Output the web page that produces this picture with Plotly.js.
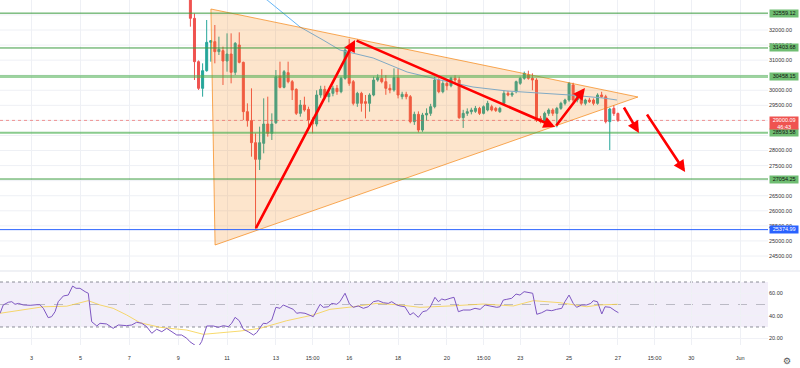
<!DOCTYPE html>
<html><head><meta charset="utf-8">
<script src="https://cdn.plot.ly/plotly-3.0.1.min.js"></script>
<style>html,body{margin:0;padding:0;background:#fff;}#chart{width:800px;height:368px;}</style>
</head><body><div id="chart"></div>
<script>
// ---- DATA (x values are days of May; 32 = 1 Jun) ----
const candleStartDay = 9.5;      // 9 May 12:00, first visible 4h candle
const candleStepDay = 1 / 6;     // 4-hour candles
const openP  = [33660,32387,30949,30064,30650,31591,31613,31281,31314,30971,31203,30595,31502,30927,29290,28991,28261,27708,28239,28880,
                28571,28924,30473,30097,30584,30285,30031,29234,29511,29367,29013,28880,29843,30031,29787,29898,30064,29953,30396,31336,
                30285,29566,29898,29622,29566,29843,30340,30396,30285,30064,30009,30418,29787,29866,29788,28958,29201,28680,29179,29234,
                29456,30341,29953,30230,30150,30400,30340,29091,29234,29289,29300,29400,29234,29345,29456,29400,29289,29566,29898,29843,
                29953,30230,30396,30510,30396,30340,29068,28958,29234,29345,29234,29400,29566,29677,30175,29677,29843,29566,29677,29677,
                29566,29843,29787,28958,29400,29230];
const highP  = [34100,32550,30990,30894,32332,31668,32166,31779,31447,31889,31889,31600,31923,30950,29566,30064,28571,28792,29732,29787,
                29234,30672,30949,30672,30949,30340,30064,29677,29787,29456,29100,30000,30150,30150,30000,30150,30175,30450,31450,31700,
                30340,29950,29950,29843,29900,30450,30530,30700,30500,30200,30728,30728,29950,29950,29843,29290,29300,29250,29400,29550,
                30450,30400,30300,30350,30450,30500,30450,29350,29400,29420,29480,29450,29500,29650,29520,29450,29450,30000,29980,29950,
                30320,30450,30620,30650,30562,30400,29150,29290,29400,29400,29450,29620,29720,30272,30250,29900,29900,29720,29750,29730,
                29900,29950,29850,29420,29500,29260];
const lowP   = [32111,30341,30010,29787,30617,30949,30894,31170,30175,30617,30230,30507,30894,29013,28792,27796,25375,27354,27907,28460,
                28350,28880,30064,30064,30230,29677,29179,29124,29290,28681,28571,28800,29750,29700,29600,29800,29850,29900,30350,30150,
                29500,29450,29290,29068,29290,29800,30285,30230,29850,29900,29953,29730,29700,29700,28903,28850,28600,28620,29000,29150,
                29400,29900,29900,30000,30100,30250,29050,28750,29150,29200,29250,29180,29200,29300,29300,29280,29250,29500,29800,29780,
                29900,30180,30350,30350,30000,28950,28900,28900,29150,29150,28770,29350,29500,29620,29600,29600,29500,29500,29580,29500,
                29520,29750,28900,28017,29150,28950];
const closeP = [32387,30949,30064,30650,31591,31645,31281,31358,30971,31203,30595,31558,30927,29290,28991,28261,27708,28261,28880,28571,
                28880,30451,30097,30617,30285,30009,29234,29511,29345,29013,28880,29843,30031,29787,29898,30064,29953,30396,31336,30230,
                29566,29898,29566,29566,29843,30340,30418,30285,30064,30009,30418,29843,29866,29787,28958,29201,28680,29179,29234,29456,
                30341,29953,30230,30150,30400,30340,29091,29234,29289,29345,29400,29234,29456,29566,29345,29330,29400,29898,29843,29898,
                30285,30396,30562,30396,30340,29013,28958,29234,29345,29234,29400,29566,29677,30230,29677,29843,29566,29677,29620,29566,
                29843,29787,28958,29378,29230,29000.09];

// moving average on price pane (read vertices)
const maDay   = [11.94,12.27,12.64,13.29,13.99,14.93,15.62,16.98,18.37,19.72,21.07,22.46,23.81,25.04,26.39,26.96];
const maPrice = [33327,33161,32996,32564,32100,31668,31336,31071,30606,30341,30108,29976,29909,29843,29743,29677];

// RSI (read vertices)
const rsiDay = [1.71,1.84,2.05,2.19,2.32,2.46,2.66,2.94,3.21,3.34,3.48,3.68,3.82,3.96,4.09,4.30,4.50,4.68,4.82,4.98,
  5.19,5.32,5.46,5.67,5.80,6.07,6.34,6.55,6.89,7.10,7.30,7.51,7.71,7.92,8.12,8.33,8.53,8.74,8.94,9.14,
  9.35,9.48,9.81,9.96,10.17,10.44,10.64,10.85,11.05,11.19,11.33,11.50,11.67,11.87,12.08,12.21,12.35,12.48,12.62,12.83,
  13.00,13.17,13.30,13.51,13.71,13.85,13.99,14.19,14.40,14.53,14.81,14.94,15.15,15.28,15.49,15.62,15.83,16.01,16.17,16.37,
  16.58,16.78,16.99,17.19,17.40,17.60,17.74,17.95,18.08,18.28,18.49,18.62,18.83,19.01,19.17,19.31,19.51,19.65,19.79,19.92,
  20.13,20.29,20.47,20.67,20.95,21.15,21.36,21.56,21.76,22.04,22.17,22.31,22.45,22.65,22.83,22.99,23.16,23.33,23.51,23.68,
  23.88,24.09,24.29,24.49,24.70,24.83,25.00,25.17,25.31,25.52,25.72,25.89,25.99,26.16,26.34,26.47,26.68,26.88,27.02];
const rsiVal = [42.2,49.6,52,52.5,50.2,51,49.6,49.3,49.8,49.8,46.6,38.3,39.2,43.6,52.5,57.6,58.4,66.4,64.4,64.4,
  61.4,60,34.7,30.9,33.3,32.7,28.8,31.8,31.2,31.8,34.2,33.3,30.3,24.4,28,25.8,28.8,25.8,22.9,22.9,
  20,16.9,12,17,30.9,30.9,29.7,31.2,30.3,33.3,38.6,35.6,28,25.8,22.9,24.9,28.8,33.3,33,36.2,
  47.5,46.6,49.6,47.5,45.7,42.2,42.7,42.2,40.7,39.2,50.2,47.5,48,51,50.2,52.5,60,50.4,47.5,48.7,
  46.6,48,52.5,53.4,51.6,51,52.5,49.6,48.7,48,40.7,42.7,38.6,43.6,44.5,47.5,56.4,52.5,54.9,54,
  55.5,56.4,43.6,45.1,45.1,46.6,45.7,49.6,48.7,47.5,48,54,54.6,55.5,59.3,58.4,61.4,60.5,60,41.3,
  42.7,45.1,44.5,45.7,46.6,52.5,58.4,51,47.5,49.6,49.6,51,53.4,52.5,41.6,48,47.5,44.5,42.7];
const rsiMaDay = [1.71,3.48,4.44,5.32,5.80,6.34,6.89,7.44,8.26,9.35,10.03,10.71,11.53,12.35,13.44,14.53,15.21,16.17,17.13,18.08,18.90,20.13,21.48,22.72,23.54,24.63,25.72,26.25,26.99];
const rsiMaVal = [42.2,48,48.5,53.4,49.6,46.6,40.7,33.8,29.7,27.3,23.5,24.9,26.4,28.8,35.6,40.7,45.7,48,51,49.6,47.5,48.7,50.4,48.7,53.4,51.6,48,49.6,50.2];

// horizontal levels
const greenLevels = [32559.12, 31403.68, 30458.15, 28593.58, 27054.25];
const blueLevel = 25374.99;
const lastPrice = 29000.09;
const countdown = '46:43';

// triangle drawing
const triDay   = [10.34, 10.51, 27.82];
const triPrice = [32697, 24865, 29777];

// arrow drawings (from -> to)
const arrowFromDay   = [12.15, 16.24, 24.43, 27.21, 28.15];
const arrowFromPrice = [25375, 31668, 28781, 29478, 29246];
const arrowToDay     = [16.24, 24.43, 25.65, 27.86, 29.75];
const arrowToPrice   = [31668, 28781, 30075, 28582, 27288];

// axis ticks (labels hidden behind the level boxes are left out)
const xTickVals = [3,5,7,9,11,13,14.5,16,18,20,21.5,23,25,27,28.5,30,32];
const xTickText = ['3','5','7','9','11','13','15:00','16','18','20','15:00','23','25','27','15:00','30','Jun'];
const priceTicks = [24500,25000,25500,26000,26500,27500,28000,29500,30000,31000,31500,32000];
const priceGrid = [24500,25000,25500,26000,26500,27000,27500,28000,28500,29000,29500,30000,30500,31000,31500,32000,32500];
const rsiTicks = [20,40,60];

// ---- STYLE ----
const FONT = 'Liberation Sans, Arial, sans-serif';
const greenWidths = [1, 1, 3, 2, 1];
const greenColors = ['#3d9c41', '#3d9c41', 'rgba(76,175,80,0.55)', 'rgba(76,175,80,0.65)', '#3d9c41'];

const candleX = openP.map((_, i) => candleStartDay + i * candleStepDay);

const traces = [
  {
    type: 'candlestick', x: candleX, open: openP, high: highP, low: lowP, close: closeP,
    xaxis: 'x', yaxis: 'y',
    increasing: {line: {color: '#26a69a', width: 1}, fillcolor: '#26a69a'},
    decreasing: {line: {color: '#ef5350', width: 1}, fillcolor: '#ef5350'},
    whiskerwidth: 0, hoverinfo: 'skip', showlegend: false
  },
  {
    type: 'scatter', mode: 'lines', x: maDay, y: maPrice, xaxis: 'x', yaxis: 'y',
    line: {color: '#64b5f6', width: 1}, hoverinfo: 'skip', showlegend: false
  },
  {
    type: 'scatter', mode: 'lines', x: rsiMaDay, y: rsiMaVal, xaxis: 'x', yaxis: 'y2',
    line: {color: 'rgba(245,205,60,0.75)', width: 1}, hoverinfo: 'skip', showlegend: false
  },
  {
    type: 'scatter', mode: 'lines', x: rsiDay, y: rsiVal, xaxis: 'x', yaxis: 'y2',
    line: {color: '#7e57c2', width: 1}, hoverinfo: 'skip', showlegend: false
  }
];

const shapes = [];
// horizontal price grid (full set, including levels hidden behind boxes)
priceGrid.forEach(v => shapes.push({type: 'line', xref: 'paper', x0: 0, x1: 1, yref: 'y', y0: v, y1: v,
  line: {color: '#eef0f5', width: 1}, layer: 'below'}));
// RSI band and levels
shapes.push({type: 'rect', xref: 'paper', x0: 0, x1: 1, yref: 'y2', y0: 30, y1: 70,
  fillcolor: 'rgba(126,87,194,0.1)', line: {width: 0}, layer: 'below'});
[70, 30].forEach(v => shapes.push({type: 'line', xref: 'paper', x0: 0, x1: 1, yref: 'y2', y0: v, y1: v,
  line: {color: 'rgba(120,123,134,0.85)', width: 1, dash: 'dot'}, layer: 'below'}));
shapes.push({type: 'line', xref: 'paper', x0: 0, x1: 1, yref: 'y2', y0: 50, y1: 50,
  line: {color: 'rgba(120,123,134,0.45)', width: 1, dash: 'dash'}, layer: 'below'});
// pane separator
shapes.push({type: 'line', xref: 'paper', x0: 0, x1: 1.0417, yref: 'paper', y0: 0.2145, y1: 0.2145,
  line: {color: '#e0e3eb', width: 1}});
// triangle
shapes.push({type: 'path', xref: 'x', yref: 'y',
  path: `M ${triDay[0]},${triPrice[0]} L ${triDay[1]},${triPrice[1]} L ${triDay[2]},${triPrice[2]} Z`,
  fillcolor: 'rgba(245,124,0,0.2)', line: {color: 'rgba(245,124,0,0.65)', width: 1}, layer: 'above'});
// level lines
greenLevels.forEach((v, i) => shapes.push({type: 'line', xref: 'paper', x0: 0, x1: 1, yref: 'y', y0: v, y1: v,
  line: {color: greenColors[i], width: greenWidths[i]}, layer: 'above'}));
shapes.push({type: 'line', xref: 'paper', x0: 0, x1: 1, yref: 'y', y0: blueLevel, y1: blueLevel,
  line: {color: '#2962ff', width: 1}, layer: 'above'});
shapes.push({type: 'line', xref: 'paper', x0: 0, x1: 1, yref: 'y', y0: lastPrice, y1: lastPrice,
  line: {color: 'rgba(239,83,80,0.6)', width: 1, dash: 'dot'}, layer: 'above'});

const annotations = [];
arrowFromDay.forEach((d, i) => annotations.push({
  xref: 'x', yref: 'y', axref: 'x', ayref: 'y',
  x: arrowToDay[i], y: arrowToPrice[i], ax: d, ay: arrowFromPrice[i],
  text: '', showarrow: true, arrowhead: 2, arrowsize: 0.9, arrowwidth: 2.6, arrowcolor: '#ff0000', standoff: 0, startstandoff: 0
}));
const labelFont = {family: FONT, size: 5.5, color: '#111'};
greenLevels.forEach(v => annotations.push({
  xref: 'paper', yref: 'y', x: 1, y: v, xanchor: 'left', yanchor: 'middle', xshift: 1,
  text: v.toFixed(2), showarrow: false, bgcolor: '#6fbd72', font: labelFont,
  width: 28, height: 6.5, borderpad: 0.2, align: 'center', valign: 'middle'
}));
annotations.push({
  xref: 'paper', yref: 'y', x: 1, y: blueLevel, xanchor: 'left', yanchor: 'middle', xshift: 1,
  text: blueLevel.toFixed(2), showarrow: false, bgcolor: '#2962ff', font: {family: FONT, size: 5.5, color: '#fff'},
  width: 28, height: 6.5, borderpad: 0.2, align: 'center', valign: 'middle'
});
annotations.push({
  xref: 'paper', yref: 'y', x: 1, y: lastPrice, xanchor: 'left', yanchor: 'middle', xshift: 1, yshift: -2.8,
  text: lastPrice.toFixed(2) + '<br>' + countdown, showarrow: false, bgcolor: '#ef5350',
  font: {family: FONT, size: 5.5, color: '#fff'},
  width: 28, height: 12, borderpad: 0.2, align: 'center', valign: 'middle'
});
annotations.push({
  xref: 'paper', yref: 'paper', x: 1.0247, y: -0.046, xanchor: 'center', yanchor: 'middle',
  text: '⚙', showarrow: false, font: {family: 'DejaVu Sans', size: 9, color: '#555'}
});

const tickFont = {family: FONT, size: 5.5, color: '#333'};
const layout = {
  width: 800, height: 368,
  margin: {l: 0, r: 32, t: 0, b: 23, pad: 0},
  paper_bgcolor: '#ffffff', plot_bgcolor: '#ffffff',
  showlegend: false,
  xaxis: {
    domain: [0, 1], range: [1.7065, 33.143], anchor: 'y2',
    tickmode: 'array', tickvals: xTickVals, ticktext: xTickText,
    showgrid: true, gridcolor: '#eef0f5', gridwidth: 1, zeroline: false, showline: false,
    ticks: 'outside', ticklen: 7, tickcolor: 'rgba(0,0,0,0)', tickfont: tickFont,
    rangeslider: {visible: false}, fixedrange: true
  },
  yaxis: {
    domain: [0.2174, 1], range: [24035.4, 32995.6], anchor: 'x', side: 'right',
    tickmode: 'array', tickvals: priceTicks, ticktext: priceTicks.map(v => v.toFixed(2)),
    showgrid: false, zeroline: false, showline: false,
    ticks: '', tickfont: tickFont, fixedrange: true
  },
  yaxis2: {
    domain: [0, 0.2116], range: [14, 78.9], anchor: 'x', side: 'right',
    tickmode: 'array', tickvals: rsiTicks, ticktext: rsiTicks.map(v => v.toFixed(2)),
    showgrid: true, gridcolor: '#f0f1f6', zeroline: false, showline: false,
    ticks: '', tickfont: tickFont, fixedrange: true
  },
  shapes: shapes,
  annotations: annotations
};

Plotly.newPlot('chart', traces, layout, {staticPlot: true, displayModeBar: false});
</script>
</body></html>
